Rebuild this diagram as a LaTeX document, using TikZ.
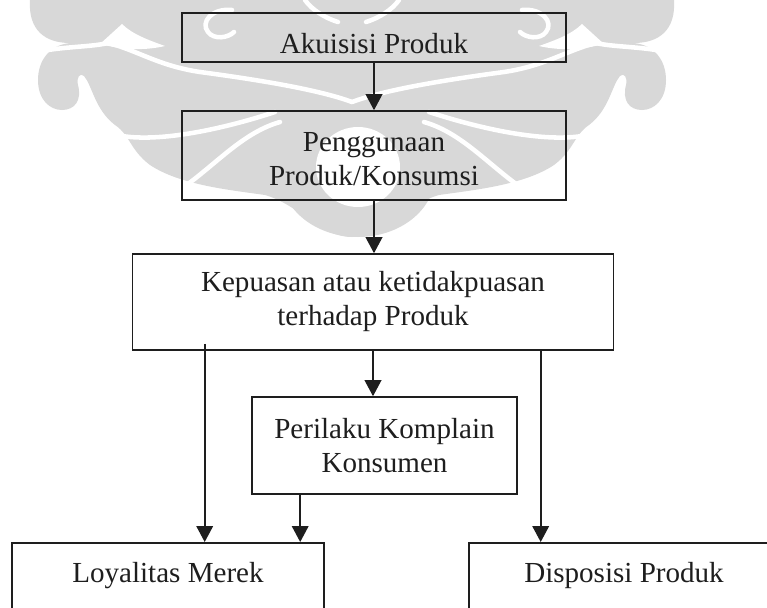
\documentclass[tikz,border=0pt]{standalone}
\usepackage{fontspec}
\setmainfont{Liberation Serif}
\usetikzlibrary{arrows.meta,calc}
\definecolor{wm}{RGB}{216,216,216}
\definecolor{ink}{RGB}{30,30,30}
\newcommand{\WmHalf}{%
  \fill[wm] (352,0) -- (30,0) .. controls (28,30) and (45,43) .. (70,43)
    .. controls (50,45) and (38,60) .. (38,80) .. controls (38,100) and (50,110) .. (62,110)
    .. controls (75,110) and (82,100) .. (78,85) .. controls (76,78) and (80,72) .. (84,76)
    .. controls (92,85) and (95,110) .. (115,125) .. controls (130,135) and (130,150) .. (150,165)
    .. controls (180,185) and (230,190) .. (265,195) .. controls (300,205) and (320,237) .. (352,237) -- cycle;
  \draw[wst] (42,51) .. controls (70,46) and (95,47) .. (112,42);
  \fill[white] (100,44) -- (122,24) .. controls (132,34) and (148,40) .. (165,46) .. controls (140,52) and (115,48) .. (100,44) -- cycle;
  \draw[wst] (112,44) .. controls (140,52) and (160,66) .. (200,72) .. controls (260,80) and (320,90) .. (352,102);
  \draw[wst] (122,136) .. controls (160,142) and (220,130) .. (275,112);
  \draw[wst] (188,184) .. controls (220,160) and (245,132) .. (280,122);
  \draw[wst] (305,0) .. controls (312,10) and (325,18) .. (338,22);
}
\begin{document}
\begin{tikzpicture}[x=0.75pt,y=-0.75pt,
  box/.style={draw=ink,line width=1.2pt,inner sep=0pt,align=center,
    font=\fontsize{21.8pt}{25.5pt}\selectfont,text=ink},
  conn/.style={draw=ink,line width=1.2pt,-{Triangle[length=12pt,width=12.5pt]}},
  wst/.style={white,line width=3.4pt,line cap=round}]
\useasboundingbox (0,0) rectangle (767,607);
\clip (0,0) rectangle (767,607);
% watermark (approximate)
\WmHalf
\begin{scope}[shift={(704,0)},xscale=-1]
\WmHalf
\end{scope}
\draw[wst] (232,10) .. controls (212,8) and (200,22) .. (208,32) .. controls (214,40) and (228,38) .. (234,32);
\draw[wst] (522,10) .. controls (542,8) and (554,22) .. (546,32) .. controls (540,40) and (526,38) .. (520,32);
\fill[wm] (358,175) ellipse [x radius=77, y radius=62];
\fill[white] (358,167) ellipse [x radius=42, y radius=40];
% boxes
\node[box,minimum width=288pt,text height=30pt,text depth=6.75pt] (aku) at (374,37.5) {Akuisisi Produk};
\node[box,minimum width=288pt,text height=55.9pt,text depth=10.85pt] (pen) at (374,155.5) {Penggunaan\\Produk/Konsumsi};
\node[box,minimum width=360.75pt,minimum height=72pt] (kep) at (373,302) {Kepuasan atau ketidakpuasan\\terhadap Produk};
\node[box,minimum width=198.75pt,minimum height=72.75pt] (per) at (384.5,445.5) {Perilaku Komplain\\Konsumen};
\node[box,anchor=north,minimum width=234pt,text height=29.6pt,text depth=30.4pt] (loy) at (168,542) {Loyalitas Merek};
\node[box,anchor=north,minimum width=232.5pt,text height=29.6pt,text depth=30.4pt] (dis) at (624,542) {Disposisi Produk};
% connectors
\coordinate (kl) at ($(kep.south west)+(73,-7)$);
\coordinate (kr) at ($(kep.south west)+(409,0)$);
\coordinate (pb) at ($(per.south west)+(49,0)$);
\draw[conn] (aku.south) -- (aku.south |- pen.north);
\draw[conn] (pen.south) -- (pen.south |- kep.north);
\draw[conn] (kep.south) -- (kep.south |- per.north);
\draw[conn] (kl) -- (kl |- loy.north);
\draw[conn] (pb) -- (pb |- loy.north);
\draw[conn] (kr) -- (kr |- dis.north);
\end{tikzpicture}
\end{document}
